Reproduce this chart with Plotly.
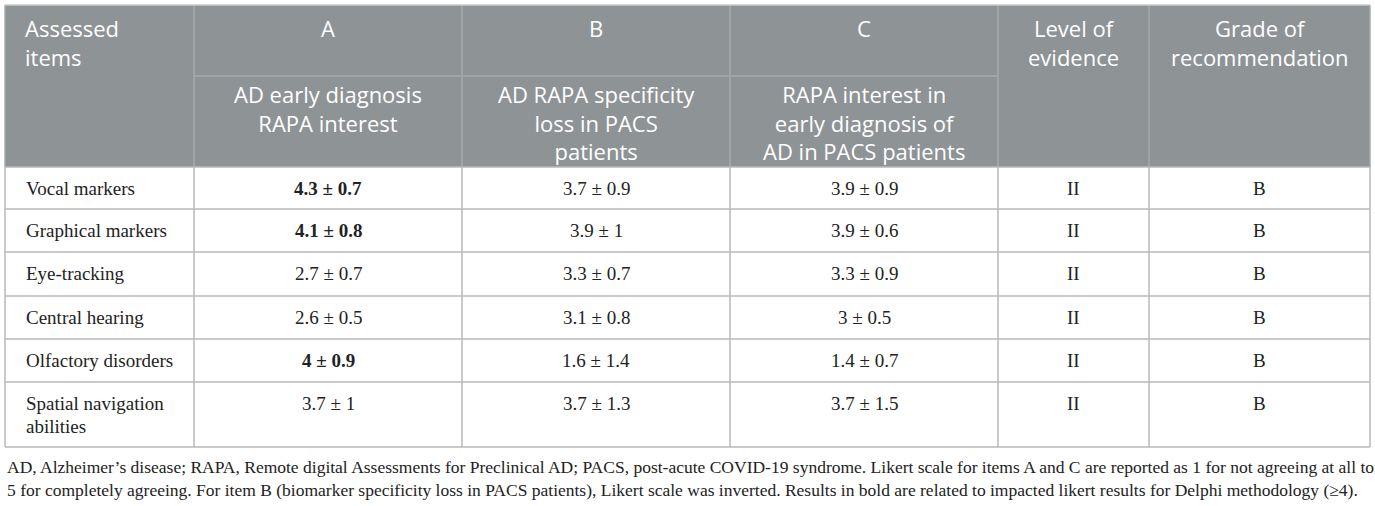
import plotly.graph_objects as go

# table content
items = ["Vocal markers", "Graphical markers", "Eye-tracking", "Central hearing",
         "Olfactory disorders", "Spatial navigation<br>abilities"]
a_mean = [4.3, 4.1, 2.7, 2.6, 4, 3.7]
a_sd = [0.7, 0.8, 0.7, 0.5, 0.9, 1]
b_mean = [3.7, 3.9, 3.3, 3.1, 1.6, 3.7]
b_sd = [0.9, 1, 0.7, 0.8, 1.4, 1.3]
c_mean = [3.9, 3.9, 3.3, 3, 1.4, 3.7]
c_sd = [0.9, 0.6, 0.9, 0.5, 0.7, 1.5]
level = ["II", "II", "II", "II", "II", "II"]
grade = ["B", "B", "B", "B", "B", "B"]

top_labels = ["Assessed<br>items", "A", "B", "C", "Level of<br>evidence", "Grade of<br>recommendation"]
sub_labels = ["", "AD early diagnosis<br>RAPA interest",
              "AD RAPA specificity<br>loss in PACS<br>patients",
              "RAPA interest in<br>early diagnosis of<br>AD in PACS patients", "", ""]

footnote = ["AD, Alzheimer\u2019s disease; RAPA, Remote digital Assessments for Preclinical AD; PACS, post-acute COVID-19 syndrome. "
            "Likert scale for items A and C are reported as 1 for not agreeing at all to",
            "5 for completely agreeing. For item B (biomarker specificity loss in PACS patients), Likert scale was inverted. "
            "Results in bold are related to impacted likert results for Delphi methodology (\u22654)."]

# layout geometry (pixels of a 1375x506 page)
W, H = 1375, 506
col_w = [189, 268, 268, 268, 151, 221]
left, top = 5, 5
head1_h, head2_h = 71, 91
row_h = [42, 43, 44, 43, 43, 65]

HEAD_FILL = "#8e9396"
HEAD_LINE = "#a6aaad"
BODY_LINE = "#b8b8b8"
SANS = "Open Sans"
SERIF = "Liberation Serif"
HEAD_SIZE = 22
BODY_SIZE = 19
NOTE_SIZE = 17.5

col_x = [left]
for w in col_w:
    col_x.append(col_x[-1] + w)
head_mid = top + head1_h
head_bot = head_mid + head2_h
row_y = [head_bot]
for h in row_h:
    row_y.append(row_y[-1] + h)


def fmt(m, s):
    txt = f"{m:g} \u00b1 {s:g}"
    return f"<b>{txt}</b>" if m >= 4 else txt


body = [items,
        [fmt(m, s) for m, s in zip(a_mean, a_sd)],
        [fmt(m, s) for m, s in zip(b_mean, b_sd)],
        [fmt(m, s) for m, s in zip(c_mean, c_sd)],
        level, grade]

shapes = []
ann = []


def put(x, y, text, anchor, font):
    ann.append(dict(x=x, y=y, text=text, xanchor=anchor, yanchor="middle", align=anchor, font=font))


# header block
shapes.append(dict(type="rect", x0=col_x[0], x1=col_x[-1], y0=top, y1=head_bot,
                   fillcolor=HEAD_FILL, line=dict(width=0), layer="below"))
for x in col_x[1:-1]:
    shapes.append(dict(type="line", x0=x, x1=x, y0=top, y1=head_bot, line=dict(color=HEAD_LINE, width=1.5)))
shapes.append(dict(type="line", x0=col_x[1], x1=col_x[4], y0=head_mid, y1=head_mid,
                   line=dict(color=HEAD_LINE, width=1.5)))

# body grid
for y in row_y:
    shapes.append(dict(type="line", x0=col_x[0], x1=col_x[-1], y0=y, y1=y, line=dict(color=BODY_LINE, width=1.5)))
for x in col_x:
    shapes.append(dict(type="line", x0=x, x1=x, y0=head_bot, y1=row_y[-1], line=dict(color=BODY_LINE, width=1.5)))
for x in (col_x[0], col_x[-1]):
    shapes.append(dict(type="line", x0=x, x1=x, y0=top, y1=head_bot, line=dict(color=HEAD_LINE, width=1.5)))
shapes.append(dict(type="line", x0=col_x[0], x1=col_x[-1], y0=top, y1=top, line=dict(color="#c8cacc", width=1.5)))

# header text: one block per cell, first line pinned near the cell top
head_font = dict(family=SANS, size=HEAD_SIZE, color="white")
lead = 1.3 * HEAD_SIZE
for j in range(len(top_labels)):
    cx = (col_x[j] + col_x[j + 1]) / 2
    n = top_labels[j].count("<br>")
    yc = top + 23 + n * lead / 2
    if j == 0:
        put(col_x[0] + 18, yc, top_labels[j], "left", head_font)
    else:
        put(cx, yc, top_labels[j], "center", head_font)
    if sub_labels[j]:
        n = sub_labels[j].count("<br>")
        put(cx, head_mid + 18 + n * lead / 2, sub_labels[j], "center", head_font)

# body text
body_font = dict(family=SERIF, size=BODY_SIZE, color="#222")
for j, col in enumerate(body):
    for i, val in enumerate(col):
        for k, line in enumerate(val.split("<br>")):
            if j == 0:
                put(col_x[0] + 19, row_y[i] + 21 + k * 23, line, "left", body_font)
            else:
                put((col_x[j] + col_x[j + 1]) / 2, row_y[i] + 21 + k * 23, line, "center", body_font)

# footnote
for k, line in enumerate(footnote):
    put(col_x[0], row_y[-1] + 20 + k * 23, line, "left", dict(family=SERIF, size=NOTE_SIZE, color="#222"))

for a in ann:
    a.update(showarrow=False, xref="x", yref="y")
for s in shapes:
    s.update(xref="x", yref="y")

fig = go.Figure(go.Scatter(x=[], y=[]))
fig.update_layout(width=W, height=H, margin=dict(l=0, r=0, t=0, b=0),
                  paper_bgcolor="white", plot_bgcolor="white",
                  xaxis=dict(range=[0, W], visible=False, fixedrange=True),
                  yaxis=dict(range=[H, 0], visible=False, fixedrange=True),
                  shapes=shapes, annotations=ann, showlegend=False)

fig.write_html("out.html", config={"displayModeBar": False},
               post_script="document.body.style.margin='0';")
